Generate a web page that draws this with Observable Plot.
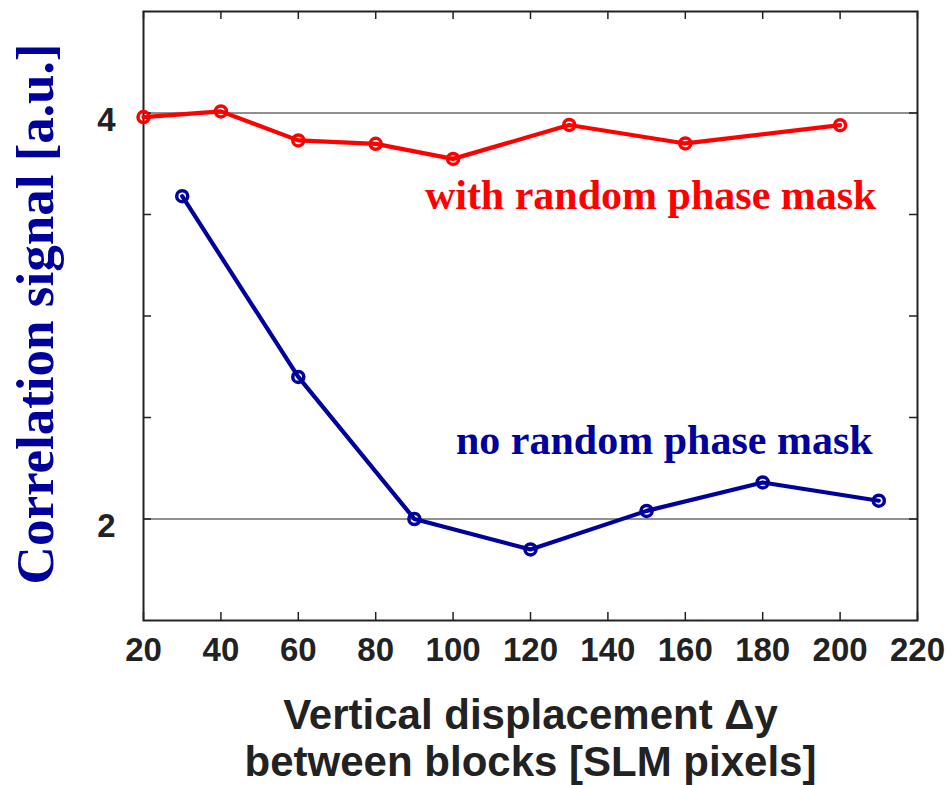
<!DOCTYPE html>
<html>
<head>
<meta charset="utf-8">
<script src="https://cdn.jsdelivr.net/npm/d3@7"></script>
<script src="https://cdn.jsdelivr.net/npm/@observablehq/plot@0.6"></script>
<style>
  html, body { margin: 0; padding: 0; background: #fff; }
  #chart svg { display: block; }
</style>
</head>
<body>
<div id="chart"></div>
<script>
// Correlation signal versus vertical block displacement
const displacementWithMask = [20, 40, 60, 80, 100, 130, 160, 200];
const signalWithMask       = [3.98, 4.008, 3.865, 3.848, 3.774, 3.941, 3.85, 3.94];

const displacementNoMask = [30, 60, 90, 120, 150, 180, 210];
const signalNoMask       = [3.59, 2.70, 2.0, 1.85, 2.04, 2.18, 2.09];

const xTicks = [20, 40, 60, 80, 100, 120, 140, 160, 180, 200, 220];
const yLabelTicks = [2, 4];
const yMinorTicks = [2, 2.5, 3, 3.5, 4];

const seriesLabels = [
  {x: 209.4, y: 3.528, text: "with random phase mask", color: "#ff0000"},
  {x: 208.4, y: 2.32,  text: "no random phase mask",   color: "#00009c"}
];

const withMask = displacementWithMask.map((x, i) => ({x, y: signalWithMask[i]}));
const noMask = displacementNoMask.map((x, i) => ({x, y: signalNoMask[i]}));

const RED = "#ff0000";
const BLUE = "#00009c";
const INK = "#222222";
const TICK_LEN = 8;
const innerH = 785 - 11 - 165;
const innerW = 948 - 143 - 31;

const chart = Plot.plot({
  width: 948,
  height: 785,
  marginTop: 11,
  marginRight: 31,
  marginBottom: 165,
  marginLeft: 143,
  style: {background: "#fff", overflow: "visible"},
  x: {domain: [20, 220]},
  y: {domain: [1.5, 4.5]},
  marks: [
    Plot.ruleY(yLabelTicks, {stroke: INK, strokeWidth: 1.2}),
    // inward ticks on all four sides
    Plot.tickX(xTicks, {x: d => d, insetTop: innerH - TICK_LEN, stroke: INK, strokeWidth: 1.5}),
    Plot.tickX(xTicks, {x: d => d, insetBottom: innerH - TICK_LEN, stroke: INK, strokeWidth: 1.5}),
    Plot.tickY(yMinorTicks, {y: d => d, insetRight: innerW - TICK_LEN, stroke: INK, strokeWidth: 1.5}),
    Plot.tickY(yMinorTicks, {y: d => d, insetLeft: innerW - TICK_LEN, stroke: INK, strokeWidth: 1.5}),
    Plot.frame({stroke: INK, strokeWidth: 2}),
    Plot.axisX({
      ticks: xTicks, tickSize: 0, tickPadding: 17, label: null,
      tickFormat: d => String(d),
      fontSize: 33, fontWeight: "bold", fill: INK,
      fontFamily: "Liberation Sans, Arial, sans-serif"
    }),
    Plot.axisY({
      ticks: yLabelTicks, tickSize: 0, tickPadding: 28, label: null, dy: 7,
      tickFormat: d => String(d),
      fontSize: 33, fontWeight: "bold", fill: INK,
      fontFamily: "Liberation Sans, Arial, sans-serif"
    }),
    Plot.line(withMask, {x: "x", y: "y", stroke: RED, strokeWidth: 4.2}),
    Plot.dot(withMask, {x: "x", y: "y", r: 5.5, stroke: RED, strokeWidth: 3.5, fill: "none"}),
    Plot.line(noMask, {x: "x", y: "y", stroke: BLUE, strokeWidth: 4.2}),
    Plot.dot(noMask, {x: "x", y: "y", r: 5.5, stroke: BLUE, strokeWidth: 3.5, fill: "none"}),
    Plot.text(seriesLabels, {
      x: "x", y: "y", text: "text", fill: "color",
      textAnchor: "end", lineAnchor: "bottom",
      fontSize: 42, fontWeight: "bold",
      fontFamily: "Liberation Serif, Times New Roman, serif"
    }),
    Plot.text(["Correlation signal [a.u.]"], {
      frameAnchor: "left", rotate: -90, dx: -91, dy: -2,
      lineAnchor: "bottom", textAnchor: "middle",
      fontSize: 53, fontWeight: "bold", fill: BLUE,
      fontFamily: "Liberation Serif, Times New Roman, serif"
    }),
    Plot.text(["Vertical displacement \u0394y\nbetween blocks [SLM pixels]"], {
      frameAnchor: "bottom", dy: 76, lineAnchor: "top", lineHeight: 1.1,
      fontSize: 42, fontWeight: "bold", fill: INK,
      fontFamily: "Liberation Sans, Arial, sans-serif"
    })
  ]
});

document.getElementById("chart").append(chart);
</script>
</body>
</html>
